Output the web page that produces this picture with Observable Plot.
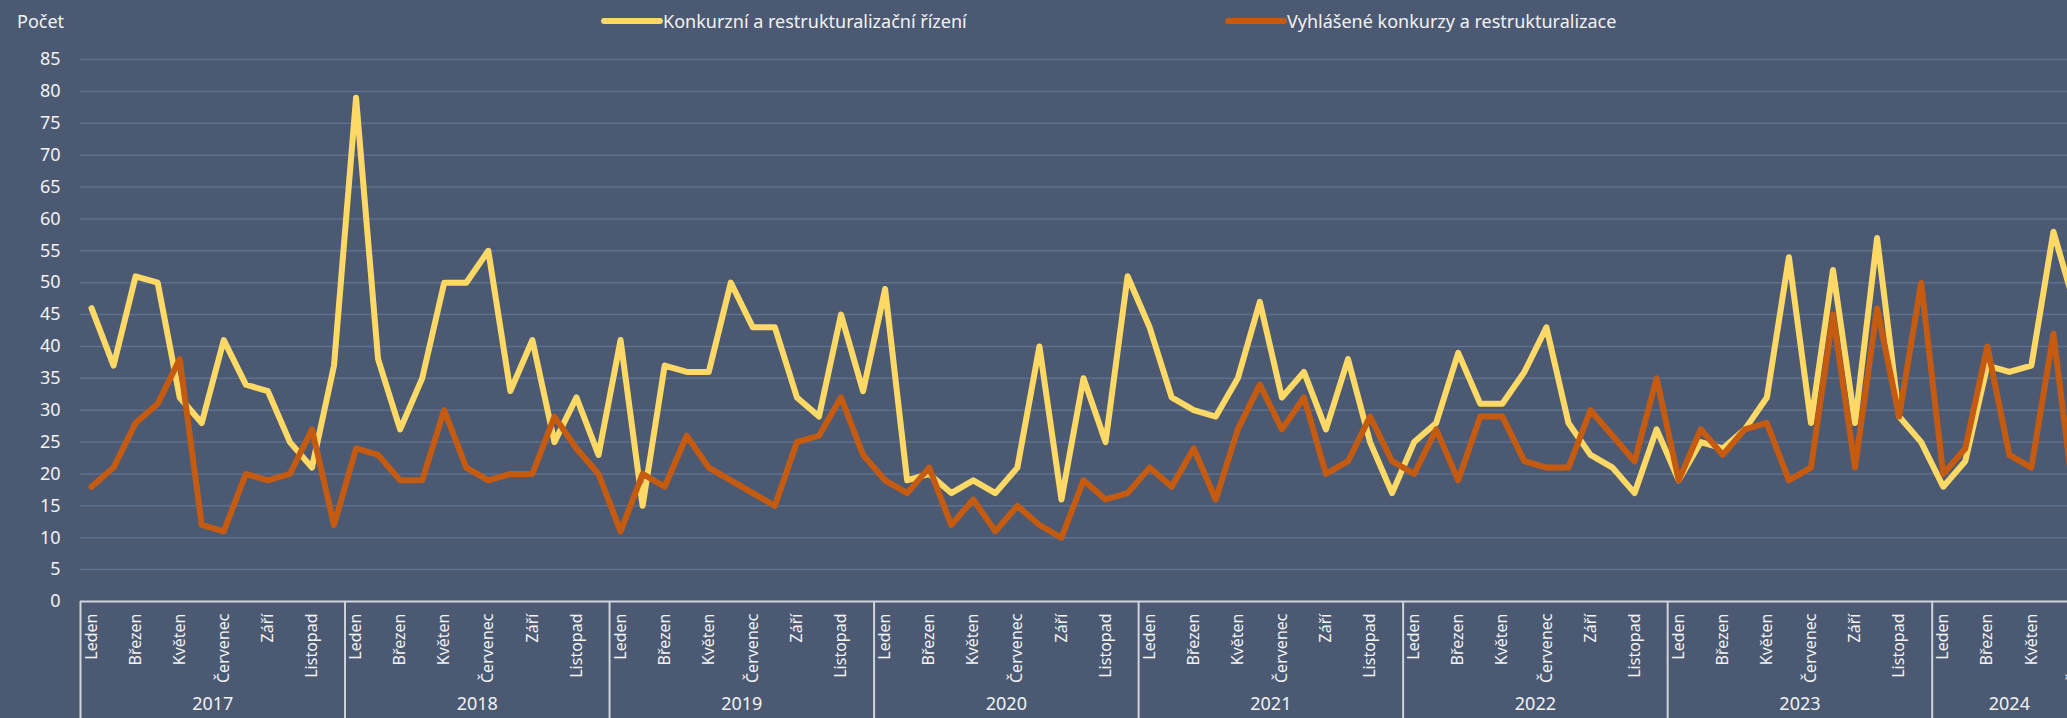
<!DOCTYPE html>
<html>
<head>
<meta charset="utf-8">
<script src="https://cdn.jsdelivr.net/npm/d3@7"></script>
<script src="https://cdn.jsdelivr.net/npm/@observablehq/plot@0.6"></script>
<style>
  html, body { margin: 0; padding: 0; width: 2067px; height: 718px; overflow: hidden; background: #4b5a72; }
  body { font-family: "Noto Sans", sans-serif; color: #f2f2f2; }
  #header { position: relative; height: 42px; width: 2067px; }
  #header .t { position: absolute; font-size: 18px; line-height: 18px; white-space: nowrap; }
  #header .sw { position: absolute; }
  #chart { width: 2100px; }
  #chart svg { display: block; max-width: none !important; width: 2100px !important; height: 676px !important; }
</style>
</head>
<body>
<div id="header"></div>
<div id="chart"></div>
<script>
// ---- data ----
const monthNames = ["Leden","Únor","Březen","Duben","Květen","Červen","Červenec","Srpen","Září","Říjen","Listopad","Prosinec"];
const years = [2017, 2018, 2019, 2020, 2021, 2022, 2023, 2024];
const monthsPerYear = [12, 12, 12, 12, 12, 12, 12, 7];
const seriesNames = ["Konkurzní a restrukturalizační řízení", "Vyhlášené konkurzy a restrukturalizace"];
const seriesColors = ["#ffd966", "#c55a11"];
const yTicks = [0, 5, 10, 15, 20, 25, 30, 35, 40, 45, 50, 55, 60, 65, 70, 75, 80, 85];
const yAxisTitle = "Počet";

const konkurzniRizeni = [
  46, 37, 51, 50, 32, 28, 41, 34, 33, 25, 21, 37,
  79, 38, 27, 35, 50, 50, 55, 33, 41, 25, 32, 23,
  41, 15, 37, 36, 36, 50, 43, 43, 32, 29, 45, 33,
  49, 19, 20, 17, 19, 17, 21, 40, 16, 35, 25, 51,
  43, 32, 30, 29, 35, 47, 32, 36, 27, 38, 25, 17,
  25, 28, 39, 31, 31, 36, 43, 28, 23, 21, 17, 27,
  19, 25, 24, 27, 32, 54, 28, 52, 28, 57, 29, 25,
  18, 22, 37, 36, 37, 58, 46
];
const vyhlaseneKonkurzy = [
  18, 21, 28, 31, 38, 12, 11, 20, 19, 20, 27, 12,
  24, 23, 19, 19, 30, 21, 19, 20, 20, 29, 24, 20,
  11, 20, 18, 26, 21, 19, 17, 15, 25, 26, 32, 23,
  19, 17, 21, 12, 16, 11, 15, 12, 10, 19, 16, 17,
  21, 18, 24, 16, 27, 34, 27, 32, 20, 22, 29, 22,
  20, 27, 19, 29, 29, 22, 21, 21, 30, 26, 22, 35,
  19, 27, 23, 27, 28, 19, 21, 45, 21, 46, 29, 50,
  20, 24, 40, 23, 21, 42, 14
];

// ---- derived tables ----
const rows = [];
const yearRows = [];
const boundaries = [];
let idx = 0;
years.forEach((yr, k) => {
  boundaries.push(idx - 0.5);
  yearRows.push({year: String(yr), center: idx + (monthsPerYear[k] - 1) / 2});
  for (let m = 0; m < monthsPerYear[k]; m++) {
    rows.push({i: idx, year: yr, month: m, a: konkurzniRizeni[idx], b: vyhlaseneKonkurzy[idx]});
    idx++;
  }
});
boundaries.push(idx - 0.5);
const labelRows = rows.filter(d => d.month % 2 === 0);

// ---- header (axis title + legend) ----
const header = document.getElementById("header");
function addText(txt, left, top) {
  const s = document.createElement("div");
  s.className = "t"; s.textContent = txt;
  s.style.left = left + "px"; s.style.top = top + "px";
  header.appendChild(s);
}
function addSwatch(color, left) {
  const ns = "http://www.w3.org/2000/svg";
  const svg = document.createElementNS(ns, "svg");
  svg.setAttribute("class", "sw");
  svg.setAttribute("width", 64); svg.setAttribute("height", 12);
  svg.style.left = left + "px"; svg.style.top = "15px";
  const ln = document.createElementNS(ns, "line");
  ln.setAttribute("x1", 4); ln.setAttribute("x2", 60);
  ln.setAttribute("y1", 6); ln.setAttribute("y2", 6);
  ln.setAttribute("stroke", color); ln.setAttribute("stroke-width", 6);
  ln.setAttribute("stroke-linecap", "round");
  svg.appendChild(ln);
  header.appendChild(svg);
}
addText(yAxisTitle, 17, 12);
addSwatch(seriesColors[0], 600);
addText(seriesNames[0], 663, 12);
addSwatch(seriesColors[1], 1224);
addText(seriesNames[1], 1287, 12);

// ---- chart ----
const gridColor = "#5c7090";
const axisColor = "#d0d4da";
const chart = Plot.plot({
  width: 2100,
  height: 676,
  marginLeft: 80,
  marginRight: 14,
  marginTop: 17,
  marginBottom: 117,
  style: {background: "transparent", color: "#f2f2f2", fontFamily: "Noto Sans", overflow: "visible", maxWidth: "none"},
  x: {type: "linear", domain: [-0.5, idx - 0.5], axis: null},
  y: {domain: [0, 85], axis: null},
  marks: [
    Plot.gridY(yTicks, {stroke: gridColor, strokeOpacity: 1, strokeWidth: 1.5}),
    Plot.axisY(yTicks, {tickSize: 0, tickPadding: 20, fontSize: 18, label: null, fill: "#f2f2f2"}),
    Plot.axisX(boundaries, {tickSize: 118, tickFormat: () => "", stroke: axisColor, strokeWidth: 2, label: null}),
    Plot.ruleY([0], {stroke: axisColor, strokeWidth: 2}),
    Plot.text(labelRows, {x: "i", text: d => monthNames[d.month], frameAnchor: "bottom", rotate: -90, textAnchor: "end", lineAnchor: "middle", dy: 12, fontSize: 16, fill: "#f2f2f2"}),
    Plot.text(yearRows, {x: "center", text: "year", frameAnchor: "bottom", dy: 108, fontSize: 18, fill: "#f2f2f2"}),
    Plot.lineY(rows, {x: "i", y: "a", stroke: seriesColors[0], strokeWidth: 6, strokeLinejoin: "round", strokeLinecap: "round"}),
    Plot.lineY(rows, {x: "i", y: "b", stroke: seriesColors[1], strokeWidth: 6, strokeLinejoin: "round", strokeLinecap: "round"})
  ]
});
document.getElementById("chart").appendChild(chart);
</script>
</body>
</html>
